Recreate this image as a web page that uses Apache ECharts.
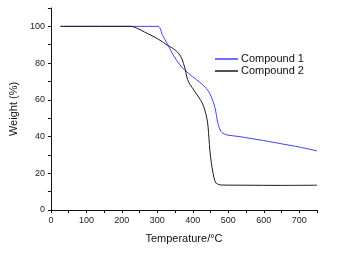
<!DOCTYPE html>
<html>
<head>
<meta charset="utf-8">
<script src="https://cdn.jsdelivr.net/npm/echarts@6/dist/echarts.min.js"></script>
<style>
html, body { margin: 0; padding: 0; background: #fff; }
#chart { width: 364px; height: 254px; }
</style>
</head>
<body>
<div id="chart"></div>
<script>
// TGA curves: [temperature, weight %]
var compound1 = [
    [27, 100], [150, 100], [250, 100], [302, 100], [315, 95], [328, 90.6], [346, 84],
    [362, 79.5], [378, 76], [400, 72.5], [420, 69.5], [434, 67], [448, 63.4],
    [462, 56], [471, 47], [480, 42.6], [490, 41.3], [498, 40.8], [530, 40],
    [562, 39], [600, 37.8], [654, 35.9], [700, 34.3], [750, 32.2]
];
var compound2 = [
    [27, 100], [150, 100], [225, 100], [245, 98.8], [264, 96.9], [282, 95.2],
    [300, 93.3], [315, 91.5], [328, 89.7], [340, 88.5], [351, 87], [361, 85],
    [369, 82.4], [378, 77], [383, 72.5], [388, 69.7], [398, 66.7], [416, 61.6],
    [426, 58.5], [434, 54.3], [440, 49.5], [443, 45.3], [448, 32.6], [452, 26],
    [457, 20], [462, 16], [466, 14.5], [473, 13.9], [480, 13.6], [550, 13.5],
    [650, 13.4], [750, 13.5]
];
var seriesNames = ['Compound 1', 'Compound 2'];
var seriesColors = ['#3f3fff', '#1a1a1a'];

var myChart = echarts.init(document.getElementById('chart'));
var font = 'Liberation Sans, Arial, sans-serif';
var option = {
    animation: false,
    grid: { left: 44, right: 47, top: 8, bottom: 44 },
    legend: {
        data: seriesNames,
        orient: 'vertical',
        left: 210,
        top: 48,
        itemWidth: 23,
        itemHeight: 1.5,
        itemGap: 0,
        icon: 'rect',
        textStyle: { fontFamily: font, fontSize: 11, color: '#111', padding: [0, 0, 0, -2], lineHeight: 12 }
    },
    xAxis: {
        type: 'value',
        min: 0,
        max: 750,
        interval: 50,
        name: 'Temperature/°C',
        nameLocation: 'middle',
        nameGap: 23,
        nameTextStyle: { fontFamily: font, fontSize: 11, color: '#111' },
        axisLine: { lineStyle: { color: '#111', width: 1 } },
        axisTick: { length: 3, lineStyle: { color: '#111' } },
        axisLabel: {
            fontFamily: font, fontSize: 9, color: '#222', margin: 6,
            formatter: function (v) { return v % 100 === 0 ? v : ''; }
        },
        splitLine: { show: false }
    },
    yAxis: {
        type: 'value',
        min: 0,
        max: 110,
        interval: 10,
        name: 'Weight (%)',
        nameLocation: 'middle',
        nameGap: 27,
        nameTextStyle: { fontFamily: font, fontSize: 11, color: '#111' },
        axisLine: { show: true, lineStyle: { color: '#111', width: 1 } },
        axisTick: { show: true, length: 3, lineStyle: { color: '#111' } },
        axisLabel: {
            fontFamily: font, fontSize: 9, color: '#222', margin: 6,
            formatter: function (v) { return (v % 20 === 0 && v <= 100) ? v : ''; }
        },
        splitLine: { show: false }
    },
    series: [
        {
            name: seriesNames[0],
            type: 'line',
            data: compound1,
            smooth: 0.3,
            showSymbol: false,
            color: seriesColors[0],
            lineStyle: { width: 1, color: seriesColors[0] }
        },
        {
            name: seriesNames[1],
            type: 'line',
            data: compound2,
            smooth: 0.3,
            showSymbol: false,
            color: seriesColors[1],
            lineStyle: { width: 1, color: seriesColors[1] }
        }
    ]
};
myChart.setOption(option, true);
</script>
</body>
</html>
